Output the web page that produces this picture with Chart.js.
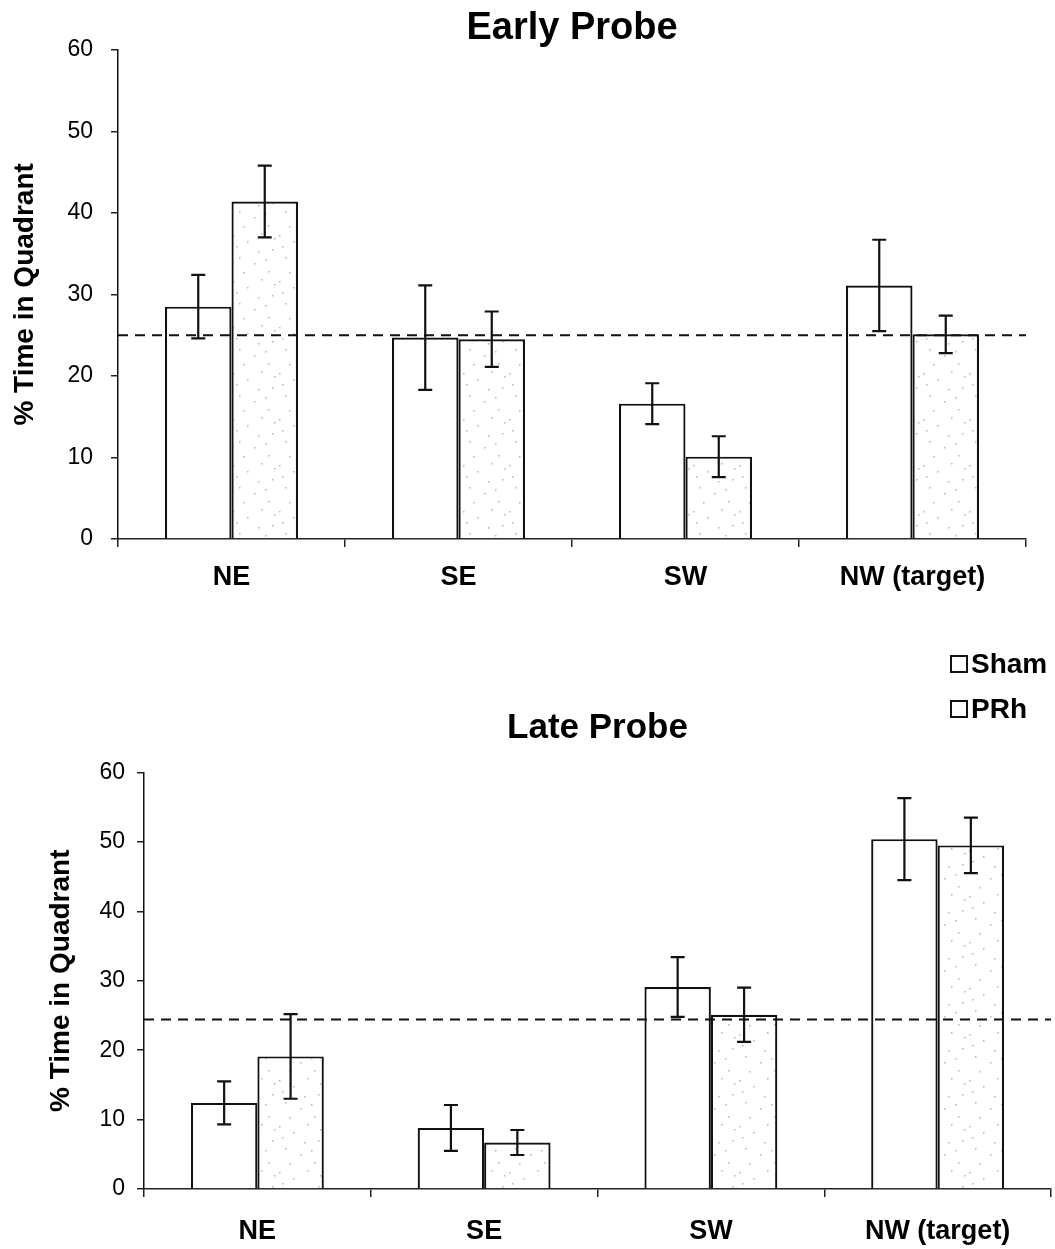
<!DOCTYPE html>
<html>
<head>
<meta charset="utf-8">
<title>Time in Quadrant</title>
<script src="https://cdn.jsdelivr.net/npm/chart.js@4.4.1/dist/chart.umd.min.js"></script>
<style>
  html, body { margin: 0; padding: 0; background: #fff; }
  body { position: relative; width: 1055px; height: 1249px; overflow: hidden; }
  #earlyBox { position: absolute; left: 0; top: 0; width: 1055px; height: 615px; }
  #lateBox { position: absolute; left: 0; top: 615px; width: 1055px; height: 634px; }
  #legend { position: absolute; left: 950px; top: 641px; font: bold 28px "Liberation Sans", Arial, sans-serif; color: #000; }
  #legend .item { display: flex; align-items: center; height: 45px; }
  #legend .swatch { width: 14px; height: 14px; border: 2px solid #111; margin-right: 3px; background: #fff; }
</style>
</head>
<body>
<div id="earlyBox"><canvas id="earlyChart" width="1055" height="615"></canvas></div>
<div id="lateBox"><canvas id="lateChart" width="1055" height="634"></canvas></div>
<div id="legend"></div>
<script>
// Quadrants and groups
const quadrants = ["NE", "SE", "SW", "NW (target)"];
const groups = ["Sham", "PRh"];

// Early probe: mean % time and SEM
const earlySham = [28.5, 24.7, 16.6, 31.1];
const earlyShamErr = [3.9, 6.4, 2.5, 5.6];
const earlyPRh = [41.4, 24.5, 10.1, 25.1];
const earlyPRhErr = [4.4, 3.4, 2.5, 2.3];
const earlyChance = 25;

// Late probe: mean % time and SEM
const lateSham = [12.4, 8.8, 29.1, 50.4];
const lateShamErr = [3.1, 3.3, 4.3, 5.9];
const latePRh = [19.1, 6.7, 25.1, 49.5];
const latePRhErr = [6.1, 1.8, 3.9, 4.0];
const lateChance = 24.4;

const yMin = 0, yMax = 60, yStep = 10;

const FONT = '"Liberation Sans", Arial, Helvetica, sans-serif';
Chart.defaults.font.family = FONT;
Chart.defaults.color = "#000";

// light grey speckle used for the PRh bars
function speckle() {
    const c = document.createElement("canvas");
    c.width = 46; c.height = 46;
    const g = c.getContext("2d");
    g.fillStyle = "#fff";
    g.fillRect(0, 0, 46, 46);
    g.fillStyle = "#b5b5b5";
    const dots = [[3, 5], [17, 11], [31, 3], [42, 19], [9, 27], [24, 33], [38, 41], [13, 42], [28, 21], [44, 8], [6, 16], [35, 29]];
    dots.forEach(([x, y]) => g.fillRect(x, y, 1.5, 1.5));
    return g.createPattern(c, "repeat");
}
const prhFill = speckle();

// error bars + dashed chance line, drawn through the chart's own scales
const extras = {
    id: "extras",
    afterDatasetsDraw(chart, args, opts) {
        const { ctx, chartArea } = chart;
        const y = chart.scales.y;
        ctx.save();
        ctx.strokeStyle = "#111";
        ctx.lineWidth = 2.2;
        chart.data.datasets.forEach((ds, di) => {
            const meta = chart.getDatasetMeta(di);
            meta.data.forEach((bar, i) => {
                const v = ds.data[i], e = ds.errors[i];
                const top = y.getPixelForValue(v + e);
                const bot = y.getPixelForValue(v - e);
                const x = bar.x, cap = 7;
                ctx.beginPath();
                ctx.moveTo(x, top); ctx.lineTo(x, bot);
                ctx.moveTo(x - cap, top); ctx.lineTo(x + cap, top);
                ctx.moveTo(x - cap, bot); ctx.lineTo(x + cap, bot);
                ctx.stroke();
            });
        });
        // chance level
        const cy = y.getPixelForValue(opts.chance);
        ctx.setLineDash([10, 7]);
        ctx.lineWidth = 2;
        ctx.beginPath();
        ctx.moveTo(chartArea.left, cy);
        ctx.lineTo(chartArea.right, cy);
        ctx.stroke();
        ctx.restore();
    }
};

function makeChart(id, o) {
    return new Chart(document.getElementById(id), {
        type: "bar",
        data: {
            labels: quadrants,
            datasets: [
                { label: groups[0], data: o.sham, errors: o.shamErr, backgroundColor: "#fff", borderColor: "#111", borderWidth: 2.2 },
                { label: groups[1], data: o.prh, errors: o.prhErr, backgroundColor: prhFill, borderColor: "#111", borderWidth: 2.2 }
            ]
        },
        options: {
            responsive: false,
            animation: false,
            layout: { padding: { left: 0, right: o.padRight, top: 0, bottom: 0 } },
            datasets: { bar: { barPercentage: 1, categoryPercentage: 0.586 } },
            plugins: {
                legend: { display: false },
                tooltip: { enabled: false },
                title: {
                    display: true,
                    text: o.title,
                    fullSize: false,
                    color: "#000",
                    font: { size: o.titleSize, weight: "bold", lineHeight: 1.1 },
                    padding: o.titlePad
                },
                extras: { chance: o.chance }
            },
            scales: {
                x: {
                    grid: { display: true, offset: true, drawOnChartArea: false, drawTicks: true, tickLength: 8, color: "#222", lineWidth: 1.5 },
                    border: { display: true, color: "#222", width: 1.5 },
                    ticks: { color: "#000", font: { size: 27, weight: "bold" }, padding: o.xPad, maxRotation: 0 },
                    afterFit: (s) => { s.height = o.xHeight; }
                },
                y: {
                    min: yMin,
                    max: yMax,
                    grid: { display: true, drawOnChartArea: false, drawTicks: true, tickLength: 7, color: "#222", lineWidth: 1.5 },
                    border: { display: true, color: "#111", width: 1.5 },
                    ticks: { stepSize: yStep, color: "#000", font: { size: 23 }, padding: o.yPad },
                    title: {
                        display: true,
                        text: "% Time in Quadrant",
                        color: "#000",
                        font: { size: 28, weight: "bold" },
                        padding: { top: o.yTitlePad, bottom: 0 }
                    },
                    afterFit: (s) => { s.width = o.yWidth; }
                }
            }
        },
        plugins: [extras]
    });
}

makeChart("earlyChart", {
    title: "Early Probe", titleSize: 38, titlePad: { top: 8, bottom: 0 },
    sham: earlySham, shamErr: earlyShamErr, prh: earlyPRh, prhErr: earlyPRhErr, chance: earlyChance,
    padRight: 29, yWidth: 118, yPad: 18, yTitlePad: 8, xHeight: 76, xPad: 14
});

makeChart("lateChart", {
    title: "Late Probe", titleSize: 35, titlePad: { top: 94, bottom: 25 },
    sham: lateSham, shamErr: lateShamErr, prh: latePRh, prhErr: latePRhErr, chance: lateChance,
    padRight: 4, yWidth: 144, yPad: 12, yTitlePad: 44, xHeight: 60, xPad: 18
});

// legend shared by both panels
const legend = document.getElementById("legend");
groups.forEach((g) => {
    const row = document.createElement("div");
    row.className = "item";
    row.innerHTML = '<span class="swatch"></span><span>' + g + "</span>";
    legend.appendChild(row);
});
</script>
</body>
</html>
